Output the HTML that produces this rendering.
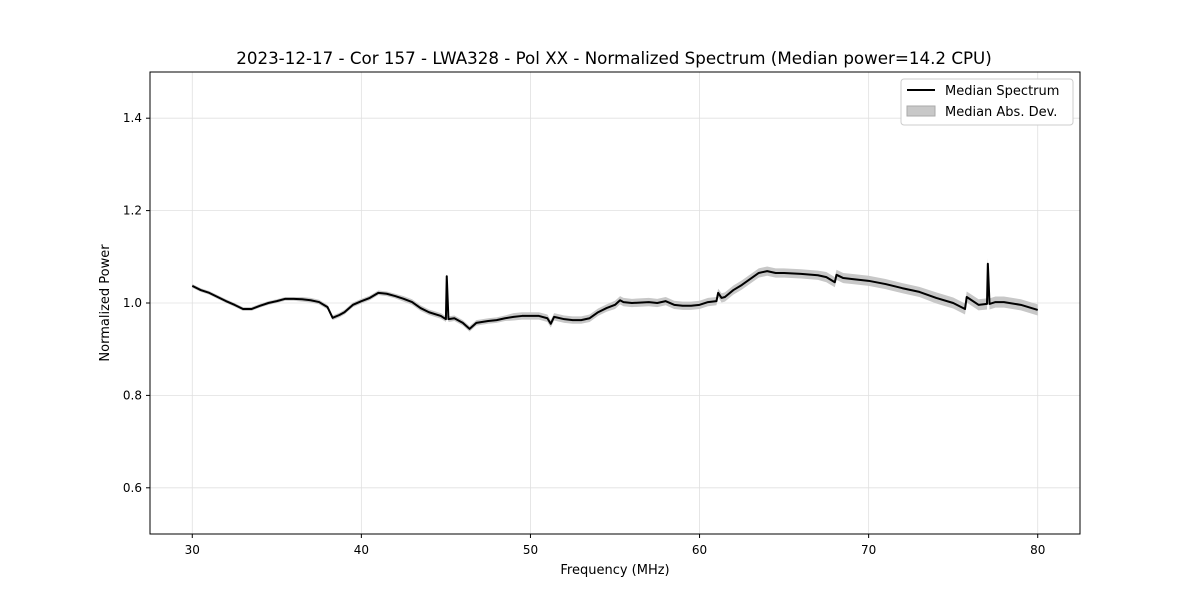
<!DOCTYPE html>
<html><head><meta charset="utf-8"><style>
body{margin:0;background:#fff;}
svg text{font-family:"DejaVu Sans","Liberation Sans",sans-serif;fill:#000;}
</style></head><body>
<svg id="chart" width="1200" height="600">
<rect width="1200" height="600" fill="#fff"/>
<text x="614" y="64" font-size="16.7" text-anchor="middle">2023-12-17 - Cor 157 - LWA328 - Pol XX - Normalized Spectrum (Median power=14.2 CPU)</text>
<g id="grid"></g>
<g id="band"></g>
<g id="line"></g>
<rect x="150" y="72" width="930" height="462" fill="none" stroke="#000" stroke-width="1"/>
<g id="ticks"></g>
<text x="615" y="574" font-size="13" text-anchor="middle">Frequency (MHz)</text>
<text transform="translate(109,303) rotate(-90)" font-size="13" text-anchor="middle">Normalized Power</text>
<g>
<rect x="901" y="79" width="172" height="46" rx="3" fill="#fff" stroke="#ccc"/>
<line x1="907" y1="90" x2="935" y2="90" stroke="#000" stroke-width="2"/>
<text x="945" y="95" font-size="13">Median Spectrum</text>
<rect x="907" y="106" width="28" height="10" fill="#c8c8c8" stroke="#aaa"/>
<text x="945" y="116" font-size="13">Median Abs. Dev.</text>
</g>
</svg>
<script>
const freqs=[30,30.5,31,31.5,32,32.5,33,33.5,34,34.5,35,35.5,36,36.5,37,37.5,38,38.3,38.7,39,39.5,40,40.5,41,41.5,42,42.5,43,43.5,44,44.7,45,45.05,45.15,45.5,46,46.4,46.8,47.5,48,48.5,49,49.5,50,50.5,51,51.2,51.4,52,52.5,53,53.5,54,54.5,55,55.3,55.5,56,57,57.5,58,58.5,59,59.5,60,60.5,61,61.1,61.3,61.5,62,62.5,63,63.5,64,64.5,65,66,67,67.5,68,68.1,68.5,69,70,71,72,73,74,75,75.7,75.8,76.5,77,77.05,77.15,77.5,78,79,80];
const power=[1.037,1.028,1.022,1.013,1.004,0.996,0.987,0.987,0.994,1.0,1.004,1.009,1.009,1.008,1.006,1.002,0.991,0.968,0.974,0.98,0.996,1.004,1.011,1.022,1.02,1.015,1.009,1.002,0.989,0.98,0.972,0.965,1.058,0.965,0.967,0.957,0.944,0.957,0.961,0.963,0.967,0.97,0.972,0.972,0.972,0.967,0.955,0.97,0.965,0.963,0.963,0.967,0.98,0.989,0.996,1.006,1.002,1.0,1.002,1.0,1.004,0.996,0.994,0.994,0.996,1.002,1.004,1.022,1.011,1.013,1.028,1.039,1.052,1.065,1.069,1.065,1.065,1.063,1.06,1.056,1.045,1.061,1.054,1.052,1.048,1.041,1.032,1.024,1.011,1.0,0.987,1.013,0.996,0.998,1.085,0.998,1.002,1.002,0.996,0.985];
const madLevel=[0.004,0.005,0.006,0.008,0.009,0.01,0.011,0.012];
const xTicks=[30,40,50,60,70,80];
const yTicks=[0.6,0.8,1.0,1.2,1.4];
const NS='http://www.w3.org/2000/svg';
const X=f=>150+(f-27.5)/55*930;
const Y=v=>534-(v-0.5)*462;
function mk(t,a,p){const e=document.createElementNS(NS,t);for(const k in a)e.setAttribute(k,a[k]);p.appendChild(e);return e;}
const grid=document.getElementById('grid'),ticks=document.getElementById('ticks');
xTicks.forEach(t=>{
 const g=mk('line',{x1:X(t),x2:X(t),y1:72,y2:534,stroke:'#e0e0e0','stroke-width':0.8},grid);
 
 
 const tk=mk('line',{x1:X(t),x2:X(t),y1:534,y2:538,stroke:'#000'},ticks);
 
 
 const tx=mk('text',{x:X(t),y:554,'font-size':12,'text-anchor':'middle'},ticks);
 
 
 tx.textContent=t;
});
yTicks.forEach(t=>{
 const g=mk('line',{x1:150,x2:1080,y1:Y(t),y2:Y(t),stroke:'#e0e0e0','stroke-width':0.8},grid);
 
 
 const tk=mk('line',{x1:146,x2:150,y1:Y(t),y2:Y(t),stroke:'#000'},ticks);
 
 
 const tx=mk('text',{x:142,y:Y(t)+4,'font-size':12,'text-anchor':'end'},ticks);
 
 
 tx.textContent=t.toFixed(1);
});
const mad=f=>madLevel[Math.min(madLevel.length-1,Math.floor((f-30)/50*madLevel.length))];
let up='',dn='';
freqs.forEach((f,i)=>{up+=(i?'L':'M')+X(f)+','+Y(power[i]+mad(f));});
for(let i=freqs.length-1;i>=0;i--)dn+='L'+X(freqs[i])+','+Y(power[i]-mad(freqs[i]));
const b=mk('path',{d:up+dn+'Z',fill:'#c8c8c8'},document.getElementById('band'));


const l=mk('polyline',{points:freqs.map((f,i)=>X(f)+','+Y(power[i])).join(' '),fill:'none',stroke:'#000','stroke-width':2,'stroke-linejoin':'round'},document.getElementById('line'));


</script>
</body></html>
